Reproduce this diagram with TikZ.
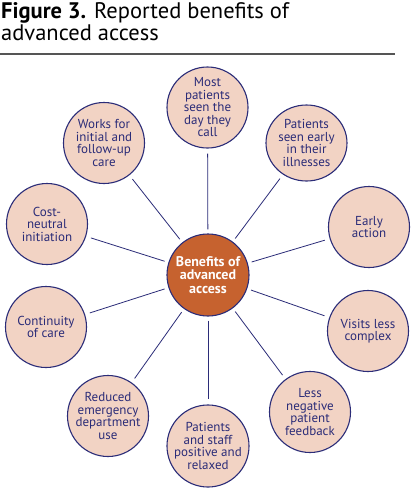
\documentclass[tikz,border=0pt]{standalone}
\usepackage{fontspec}
\setmainfont{PT Sans}
\usetikzlibrary{shapes.geometric}
\definecolor{navy}{HTML}{2B2C78}
\definecolor{peach}{HTML}{F2D3C4}
\definecolor{rust}{HTML}{C6622F}
\definecolor{rulegray}{HTML}{555555}
\begin{document}
\begin{tikzpicture}[x=1pt,y=-1pt,
  leaf/.style={circle, draw=navy, fill=peach, line width=1.1pt, minimum size=81pt, inner sep=0pt, text=navy, font=\fontsize{13}{12.5}\selectfont, align=center},
  leafoval/.style={leaf, ellipse, minimum width=81pt, minimum height=76pt},
  hub/.style={circle, draw=navy, fill=rust, line width=1.1pt, minimum size=82pt, inner sep=0pt, text=white, font=\fontsize{14}{13.5}\selectfont\bfseries, align=center},
  spoke/.style={draw=navy, line width=0.8pt, shorten <=4pt, shorten >=5pt},
  titletext/.style={anchor=base west, inner sep=0pt, font=\fontsize{22.5}{22}\selectfont, text=black}]
\useasboundingbox (0,0) rectangle (412,488);
\fill[white] (0,0) rectangle (412,488);
\node[titletext] (t1) at (1,18) {\textbf{Figure 3.} Reported benefits of};
\node[titletext] (t2) at (1,40) {advanced access};
\coordinate (r1) at (0,54);
\coordinate (r2) at (395,54);
\draw[rulegray, line width=1.3pt] (r1) -- (r2);

\node[hub] (c) at (208,275) {Benefits of\\advanced\\access};

\node[leaf] (n1) at (207.5,107.5) {Most\\patients\\seen the\\day they\\call};
\node[leafoval] (n2) at (306.5,143) {Patients\\seen early\\in their\\illnesses};
\node[leaf] (n3) at (369,227) {Early\\action};
\node[leaf] (n4) at (368,331) {Visits less\\complex};
\node[leaf] (n5) at (310,412) {Less\\negative\\patient\\feedback};
\node[leaf] (n6) at (208,446) {Patients\\and staff\\positive and\\relaxed};
\node[leaf] (n7) at (108,416) {Reduced\\emergency\\department\\use};
\node[leaf] (n8) at (46,327) {Continuity\\of care};
\node[leaf] (n9) at (47,224) {Cost-\\neutral\\initiation};
\node[leaf] (n10) at (104,143) {Works for\\initial and\\follow-up\\care};

\foreach \i in {1,...,10} \draw[spoke] (c) -- (n\i);
\end{tikzpicture}
\end{document}
